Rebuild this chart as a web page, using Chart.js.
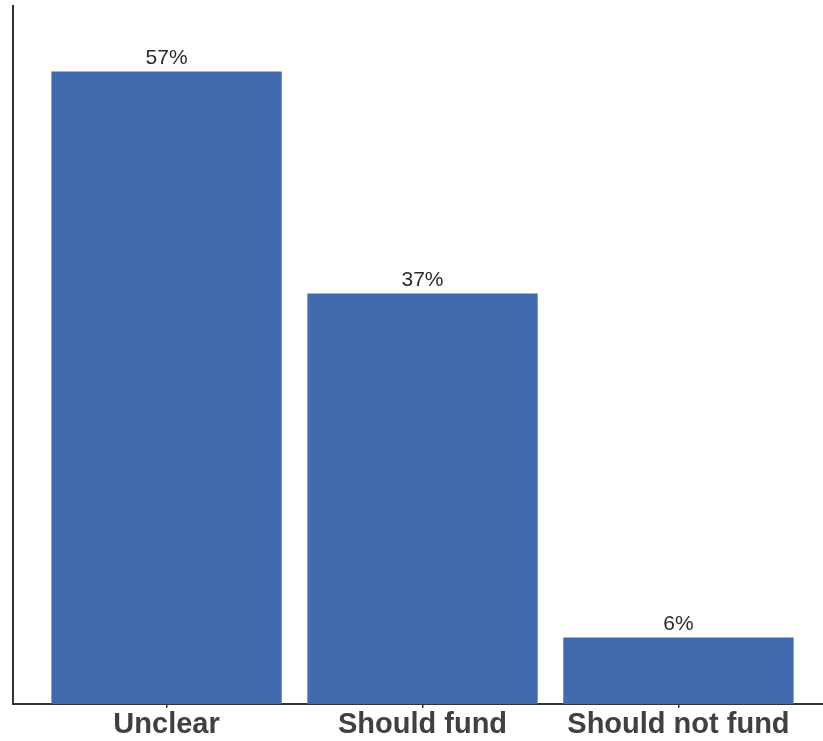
<!DOCTYPE html>
<html>
<head>
<meta charset="utf-8">
<script src="https://cdn.jsdelivr.net/npm/chart.js@4/dist/chart.umd.min.js"></script>
<style>
  html, body { margin: 0; padding: 0; background: #fff; overflow: hidden; }
  #wrap { position: relative; width: 832px; height: 741px; }
</style>
</head>
<body>
<div id="wrap"><canvas id="grafico"></canvas></div>
<script>
// categorias y porcentajes
const categorias = ["Unclear", "Should fund", "Should not fund"];
const valores = [57, 37, 6];
const etiquetas = ["57%", "37%", "6%"];

const azul = "#416BAE";

// etiquetas encima de cada barra
const etiquetasBarras = {
  id: "etiquetasBarras",
  afterDatasetsDraw(chart) {
    const ctx = chart.ctx;
    const meta = chart.getDatasetMeta(0);
    ctx.save();
    ctx.font = "21px 'Liberation Sans', Arial, sans-serif";
    ctx.fillStyle = "#2b2b2b";
    ctx.textAlign = "center";
    ctx.textBaseline = "alphabetic";
    meta.data.forEach((bar, i) => {
      ctx.fillText(etiquetas[i], bar.x, bar.y - 7);
    });
    ctx.restore();
  }
};

const ctx = document.getElementById("grafico").getContext("2d");
const grafico = new Chart(ctx, {
  type: "bar",
  data: {
    datasets: [{
      data: valores.map((v, i) => ({x: i, y: v})),
      backgroundColor: azul,
      borderWidth: 0,
      barPercentage: 0.9,
      categoryPercentage: 1.0
    }]
  },
  options: {
    responsive: true,
    maintainAspectRatio: false,
    animation: false,
    layout: { padding: { top: 6, left: 0, right: 0, bottom: 0 } },
    plugins: { legend: { display: false }, tooltip: { enabled: false } },
    scales: {
      x: {
        type: "linear",
        offset: false,
        min: -0.6,
        max: 2.6,
        afterBuildTicks: (scale) => { scale.ticks = categorias.map((c, i) => ({value: i})); },
        afterFit: (scale) => { scale.height = 37; },
        ticks: {
          callback: (v) => categorias[v],
          font: { family: "'Liberation Sans', Arial, sans-serif", size: 29, weight: "bold" },
          color: "#404040",
          padding: 0,
          maxRotation: 0,
          autoSkip: false
        },
        grid: { offset: false, drawOnChartArea: false, tickLength: 4, color: "#333", lineWidth: 1.5 },
        border: { display: true, color: "#333", width: 2 }
      },
      y: {
        min: 0,
        max: 62.9,
        afterFit: (scale) => { scale.width = 13; },
        ticks: { display: false },
        grid: { display: false },
        border: { display: true, color: "#333", width: 2 }
      }
    }
  },
  plugins: [etiquetasBarras]
});
</script>
</body>
</html>
